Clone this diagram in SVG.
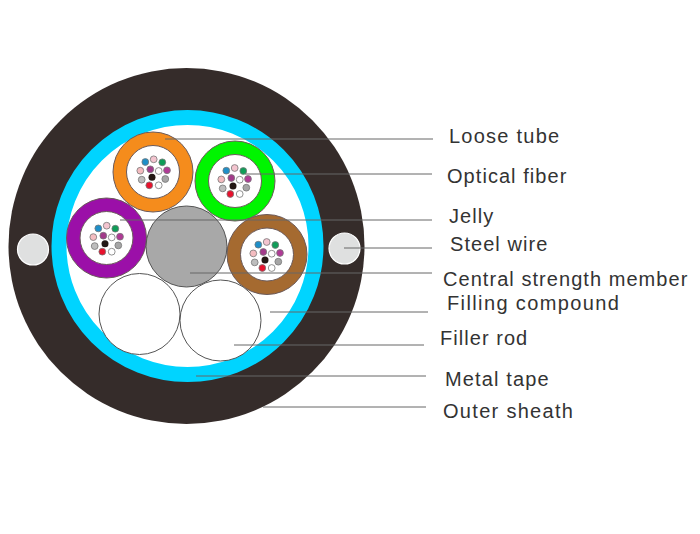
<svg xmlns="http://www.w3.org/2000/svg" width="700" height="534" viewBox="0 0 700 534">
<style>
.ring{fill:#fff;stroke-width:13.500}
.edge{fill:none;stroke:#6b5a5a;stroke-width:1}
.f{stroke:#777;stroke-width:.8}
.wire{fill:#dfe0e0;stroke:#fff;stroke-width:1.2}
.rod{fill:#fff;stroke:#555;stroke-width:1}
.lead{stroke:#666;stroke-width:1;fill:none}
text{font-family:"Liberation Sans",Arial,sans-serif;font-size:20px;fill:#333;letter-spacing:1.05px}
</style>
<defs>
<g id="fibers">
<circle class="f" cx="-6.7" cy="-15.3" r="3.400" fill="#1f8fc8"/>
<circle class="f" cx="1.7" cy="-18" r="3.400" fill="#f3c4cf"/>
<circle class="f" cx="10.3" cy="-15" r="3.400" fill="#0f9d58"/>
<circle class="f" cx="-11.7" cy="-6.6" r="3.400" fill="#f4bcc0"/>
<circle class="f" cx="-1.7" cy="-8" r="3.400" fill="#a23a8a"/>
<circle class="f" cx="6.7" cy="-6.3" r="3.400" fill="#fff"/>
<circle class="f" cx="15" cy="-7" r="3.400" fill="#b03a96"/>
<circle class="f" cx="-10.3" cy="2.4" r="3.400" fill="#bdbdbd"/>
<circle class="f" cx="13.3" cy="1.7" r="3.400" fill="#a5a5a5"/>
<circle class="f" cx="-2.7" cy="8" r="3.400" fill="#e8112d"/>
<circle class="f" cx="6.7" cy="8" r="3.400" fill="#fff"/>
<circle cx="0" cy="0" r="3.500" fill="#231815"/>
</g>
</defs>
<rect width="700" height="534" fill="#fff"/>
<g id="cable">
<circle cx="186.500" cy="246" r="178" fill="#352c2a"/>
<circle cx="187.500" cy="246" r="128.500" fill="#fff" stroke="#00d4ff" stroke-width="15"/>
</g>
<g id="steel-wire-left"><circle class="wire" cx="33" cy="249.500" r="15.500"/></g>
<g id="steel-wire-right"><circle class="wire" cx="344.500" cy="248.500" r="15.500"/></g>
<g id="tube-orange"><circle class="ring" cx="153" cy="172" r="33.200" stroke="#f58c1c"/><circle class="edge" cx="153" cy="172" r="40"/><circle class="edge" cx="153" cy="172" r="26.500"/><use href="#fibers" x="152" y="177.300"/></g>
<g id="tube-green"><circle class="ring" cx="235" cy="181" r="33.200" stroke="#00f500"/><circle class="edge" cx="235" cy="181" r="40"/><circle class="edge" cx="235" cy="181" r="26.500"/><use href="#fibers" x="233" y="186"/></g>
<g id="tube-purple"><circle class="ring" cx="106.500" cy="238" r="33.200" stroke="#9b0fa8"/><circle class="edge" cx="106.500" cy="238" r="40"/><circle class="edge" cx="106.500" cy="238" r="26.500"/><use href="#fibers" x="105" y="243.700"/></g>
<g id="tube-brown"><circle class="ring" cx="267" cy="254.500" r="33.200" stroke="#a56a30"/><circle class="edge" cx="267" cy="254.500" r="40"/><circle class="edge" cx="267" cy="254.500" r="26.500"/><use href="#fibers" x="265" y="260"/></g>
<g id="central-member"><circle cx="186.500" cy="246.500" r="40.500" fill="#a8a8a8" stroke="#555" stroke-width="1"/></g>
<g id="filler-rod-left"><circle class="rod" cx="139.500" cy="314" r="40.500"/></g>
<g id="filler-rod-right"><circle class="rod" cx="220.500" cy="320.500" r="40.500"/></g>
<g id="connectors">
<path class="lead" d="M165 139H433"/>
<path class="lead" d="M245 174H432"/>
<path class="lead" d="M120 220H432"/>
<path class="lead" d="M344 248H432"/>
<path class="lead" d="M190 273H432"/>
<path class="lead" d="M270 312H428"/>
<path class="lead" d="M234 345H424"/>
<path class="lead" d="M196 376H426"/>
<path class="lead" d="M263 407H426"/>
</g>
<g id="labels">
<text x="449" y="143.300" style="letter-spacing:1.25px">Loose tube</text>
<text x="447" y="182.700">Optical fiber</text>
<text x="449" y="222.700">Jelly</text>
<text x="450" y="251">Steel wire</text>
<text x="443" y="285.700">Central strength member</text>
<text x="447" y="310" style="letter-spacing:1.38px">Filling compound</text>
<text x="440" y="345.300">Filler rod</text>
<text x="445" y="386" style="letter-spacing:1.15px">Metal tape</text>
<text x="443" y="418" style="letter-spacing:1.3px">Outer sheath</text>
</g>
</svg>
